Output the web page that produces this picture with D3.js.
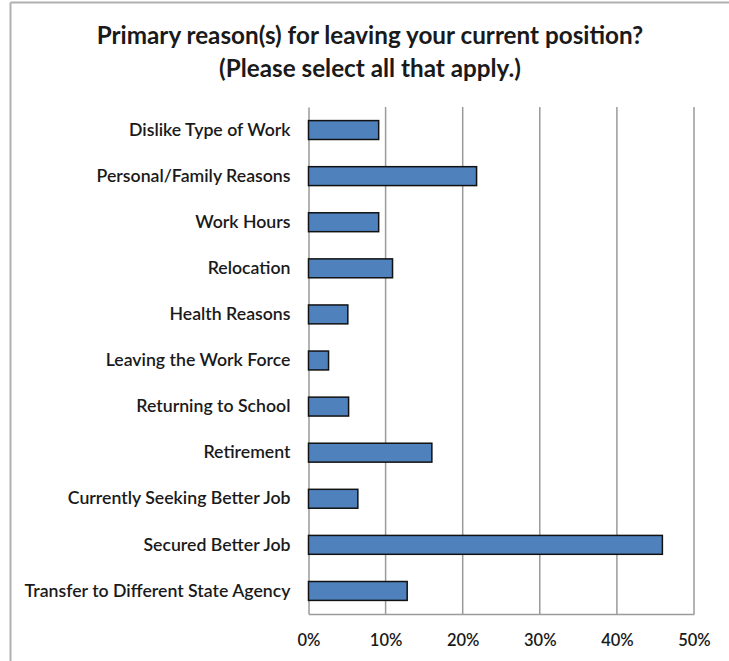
<!DOCTYPE html>
<html>
<head>
<meta charset="utf-8">
<script src="https://cdn.jsdelivr.net/npm/d3@7"></script>
<style>
  html, body { margin: 0; padding: 0; background: #fff; }
  svg { display: block; }
</style>
</head>
<body>
<svg id="chart" width="729" height="661"></svg>
<script>
// Survey responses: share of respondents choosing each reason
const categories = [
  "Dislike Type of Work",
  "Personal/Family Reasons",
  "Work Hours",
  "Relocation",
  "Health Reasons",
  "Leaving the Work Force",
  "Returning to School",
  "Retirement",
  "Currently Seeking Better Job",
  "Secured Better Job",
  "Transfer to Different State Agency"
];
const shares = [0.091, 0.218, 0.091, 0.109, 0.051, 0.026, 0.052, 0.160, 0.064, 0.459, 0.128];
const tickValues = [0, 0.1, 0.2, 0.3, 0.4, 0.5];
const titleLines = [
  "Primary reason(s) for leaving your current position?",
  "(Please select all that apply.)"
];

const svg = d3.select("#chart");
const font = "Lato, 'Open Sans', sans-serif";
const textColor = "#1a1a1a";
const gridColor = "#9a9a9a";

const plot = { left: 308.5, right: 694, top: 107, bottom: 614 };

// outer frame (top and left edges)
svg.append("line").attr("x1", 10.5).attr("x2", 729).attr("y1", 2.5).attr("y2", 2.5)
  .attr("stroke", "#b0b0b0").attr("stroke-width", 2);
svg.append("line").attr("x1", 10.5).attr("x2", 10.5).attr("y1", 2.5).attr("y2", 661)
  .attr("stroke", "#b0b0b0").attr("stroke-width", 2);

const x = d3.scaleLinear().domain([0, 0.5]).range([plot.left, plot.right]);
const y = d3.scaleBand().domain(categories).range([plot.top, plot.bottom])
  .paddingInner(0.59).paddingOuter(0.295);

// scale a text group's font so that its widest line spans the given width
function fitFont(sel, base, width) {
  const widest = d3.max(sel.nodes(), n => n.getComputedTextLength());
  sel.attr("font-size", base * width / widest);
}

// title
const title = svg.append("g").attr("font-family", font).attr("font-weight", 700)
  .attr("fill", textColor).attr("text-anchor", "middle");
const titleText = title.selectAll("text").data(titleLines).join("text")
  .attr("x", 370).attr("y", (d, i) => 44 + i * 32.5)
  .attr("font-size", 19)
  .text(d => d);
fitFont(titleText, 19, 547);

// vertical gridlines
svg.append("g").selectAll("line").data(tickValues.slice(1)).join("line")
  .attr("x1", d => x(d)).attr("x2", d => x(d))
  .attr("y1", plot.top).attr("y2", plot.bottom)
  .attr("stroke", gridColor).attr("stroke-width", 1.5);

// bottom axis with percent ticks
const xAxis = d3.axisBottom(x).tickValues(tickValues).tickFormat(d3.format(".0%"))
  .tickSize(0).tickPadding(20);
const xg = svg.append("g").attr("transform", `translate(0,${plot.bottom})`).call(xAxis);
xg.select(".domain").attr("stroke", gridColor).attr("stroke-width", 1.5);
xg.selectAll("text").attr("font-family", font).attr("font-size", 16.5)
  .attr("font-weight", 600).attr("fill", textColor);

// left axis with category labels
const yAxis = d3.axisLeft(y).tickSize(0).tickPadding(18);
const yg = svg.append("g").attr("transform", `translate(${plot.left},0)`).call(yAxis);
yg.select(".domain").attr("stroke", gridColor).attr("stroke-width", 1.5);
const yLabels = yg.selectAll("text").attr("font-family", font).attr("font-size", 14.5)
  .attr("font-weight", 600).attr("fill", textColor);
fitFont(yLabels, 14.5, 266);

// bars
svg.append("g").selectAll("rect").data(categories).join("rect")
  .attr("x", x(0))
  .attr("y", d => y(d))
  .attr("width", (d, i) => x(shares[i]) - x(0))
  .attr("height", y.bandwidth())
  .attr("fill", "#4f81bd")
  .attr("stroke", "#111")
  .attr("stroke-width", 1.5);
</script>
</body>
</html>
